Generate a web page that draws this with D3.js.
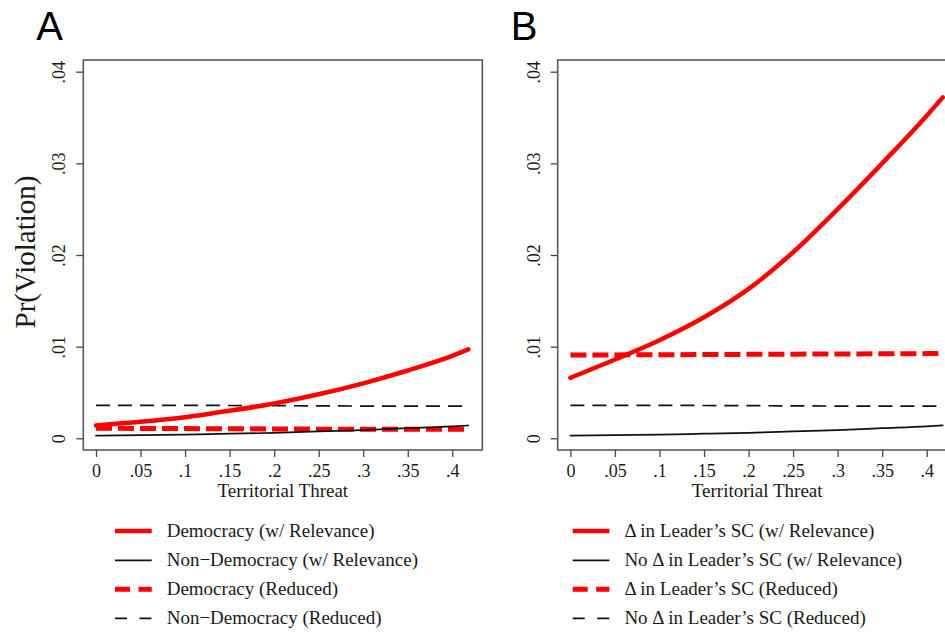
<!DOCTYPE html>
<html>
<head>
<meta charset="utf-8">
<title>Pr(Violation) by territorial threat</title>
<script src="https://cdn.jsdelivr.net/npm/d3@7"></script>
<style>
  body { margin: 0; background: #fff; }
  text { font-family: "Liberation Serif", "Times New Roman", serif; fill: #1a1a1a; }
  .panelLetter { font-family: "Liberation Sans", Arial, sans-serif; fill: #000; }
</style>
</head>
<body>
<div id="chart"></div>
<script>
// values
var threat = [0, .05, .1, .15, .2, .25, .3, .35, .4, .418];

var demRel    = [.0014, .0018, .0023, .0030, .0038, .0048, .0060, .0074, .0090, .0097];
var nonDemRel = [.0003, .00035, .0004, .0005, .0006, .00075, .0009, .0011, .0013, .0014];
var demRed    = [.0011, .00108, .00106, .00104, .00102, .001, .001, .001, .001, .001];
var nonDemRed = [.0036, .0036, .0036, .00358, .00356, .00354, .00352, .0035, .0035, .0035];

var chgRel    = [.0066, .0086, .0107, .0132, .0163, .0203, .0250, .0300, .0352, .0372];
var noChgRel  = [.0003, .00035, .0004, .0005, .0006, .00075, .0009, .0011, .0013, .0014];
var chgRed    = [.0091, .0091, .00912, .00914, .00916, .00918, .0092, .00922, .00924, .00925];
var noChgRed  = [.0036, .0036, .0036, .00358, .00356, .00354, .00352, .0035, .0035, .0035];

var xTicks = [0, .05, .1, .15, .2, .25, .3, .35, .4];
var xTickLabels = ["0", ".05", ".1", ".15", ".2", ".25", ".3", ".35", ".4"];
var yTicks = [0, .01, .02, .03, .04];
var yTickLabels = ["0", ".01", ".02", ".03", ".04"];

var legendA = ["Democracy (w/ Relevance)", "Non\u2212Democracy (w/ Relevance)",
               "Democracy (Reduced)", "Non\u2212Democracy (Reduced)"];
var legendB = ["\u0394 in Leader\u2019s SC (w/ Relevance)", "No \u0394 in Leader\u2019s SC (w/ Relevance)",
               "\u0394 in Leader\u2019s SC (Reduced)", "No \u0394 in Leader\u2019s SC (Reduced)"];

// line styles: solid red thick, solid black thin, dashed red thick, dashed black thin
var styles = [
  {color: "#ff0000", width: 4.5, dash: null,   legDash: null},
  {color: "#111",    width: 1.7, dash: null,   legDash: null},
  {color: "#ff0000", width: 5,   dash: "16,6", legDash: "15,8.5"},
  {color: "#111",    width: 1.7, dash: "14,8", legDash: "12,12.5"}
];

var width = 945, height = 634;
var boxTop = 60, boxBottom = 450, boxW = 399;

var svg = d3.select("#chart").append("svg")
  .attr("width", width)
  .attr("height", height);

var y = d3.scaleLinear().domain([0, .04]).range([438.3, 71.7]);

var panels = [
  {letter: "A", left: 83.3, series: [demRel, nonDemRel, demRed, nonDemRed], legend: legendA, legX: 115, ylab: true},
  {letter: "B", left: 557.7, series: [chgRel, noChgRel, chgRed, noChgRed], legend: legendB, legX: 572.7, ylab: false}
];

panels.forEach(function(p) {
  var g = svg.append("g");
  var x = d3.scaleLinear().domain([0, .4]).range([p.left + 12.7, p.left + 369]);

  // panel letter
  g.append("text")
    .attr("class", "panelLetter")
    .attr("x", p.left - 47)
    .attr("y", 40)
    .attr("font-size", 40)
    .text(p.letter);

  // y axis
  var yAxis = g.append("g")
    .attr("transform", "translate(" + p.left + ",0)")
    .call(d3.axisLeft(y).tickValues(yTicks).tickSize(7).tickPadding(0)
      .tickFormat(function(d, i) { return yTickLabels[i]; }));
  yAxis.select(".domain").remove();
  yAxis.selectAll(".tick line").attr("stroke", "#444").attr("stroke-width", 1.3);
  yAxis.selectAll(".tick text")
    .attr("font-size", 18)
    .attr("font-family", "Liberation Serif, serif")
    .attr("fill", "#1a1a1a")
    .attr("text-anchor", "middle")
    .attr("x", null).attr("dy", null)
    .attr("transform", "translate(-18,0) rotate(-90)");

  // x axis
  var xAxis = g.append("g")
    .attr("transform", "translate(0," + boxBottom + ")")
    .call(d3.axisBottom(x).tickValues(xTicks).tickSize(7).tickPadding(0)
      .tickFormat(function(d, i) { return xTickLabels[i]; }));
  xAxis.select(".domain").remove();
  xAxis.selectAll(".tick line").attr("stroke", "#444").attr("stroke-width", 1.3);
  xAxis.selectAll(".tick text")
    .attr("font-size", 18)
    .attr("font-family", "Liberation Serif, serif")
    .attr("fill", "#1a1a1a")
    .attr("y", 27).attr("dy", null);

  g.append("text")
    .attr("x", p.left + boxW / 2)
    .attr("y", 497)
    .attr("text-anchor", "middle")
    .attr("font-size", 19)
    .text("Territorial Threat");

  if (p.ylab) {
    g.append("text")
      .attr("transform", "translate(35,252) rotate(-90)")
      .attr("text-anchor", "middle")
      .attr("font-size", 29)
      .text("Pr(Violation)");
  }

  // plot region frame
  g.append("rect")
    .attr("x", p.left).attr("y", boxTop)
    .attr("width", boxW).attr("height", boxBottom - boxTop)
    .attr("fill", "none")
    .attr("stroke", "#5a5a5a")
    .attr("stroke-width", 1.6);

  var line = d3.line()
    .x(function(d, i) { return x(threat[i]); })
    .y(function(d) { return y(d); })
    .curve(d3.curveMonotoneX);

  // draw order: reduced dashed first, then relevance lines on top
  [3, 2, 1, 0].forEach(function(k) {
    var s = styles[k];
    g.append("path")
      .datum(p.series[k])
      .attr("d", line)
      .attr("fill", "none")
      .attr("stroke", s.color)
      .attr("stroke-width", s.width)
      .attr("stroke-linecap", s.dash ? "butt" : "round")
      .attr("stroke-dasharray", s.dash);
  });

  // legend
  var legY = [531, 560.3, 589.3, 618.3];
  p.legend.forEach(function(lab, k) {
    var s = styles[k];
    g.append("line")
      .attr("x1", p.legX).attr("x2", p.legX + 36.7)
      .attr("y1", legY[k]).attr("y2", legY[k])
      .attr("stroke", s.color)
      .attr("stroke-width", s.width)
      .attr("stroke-dasharray", s.legDash);
    g.append("text")
      .attr("x", p.legX + 51.7)
      .attr("y", legY[k] + 6)
      .attr("font-size", 19)
      .text(lab);
  });
});
</script>
</body>
</html>
